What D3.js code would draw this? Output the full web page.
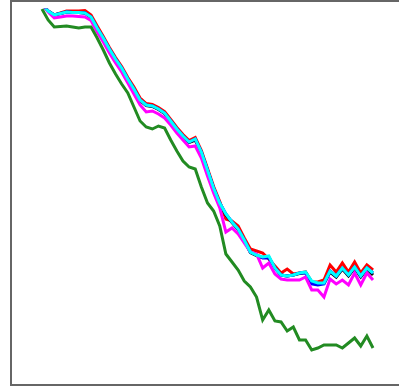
<!DOCTYPE html>
<html>
<head>
<meta charset="utf-8">
<script src="https://cdn.jsdelivr.net/npm/d3@7"></script>
<style>
  html, body { margin: 0; padding: 0; background: #fff; }
  svg { display: block; }
</style>
</head>
<body>
<svg id="chart" width="399" height="389"></svg>
<script>
// x categories (sample index)
const steps = d3.range(0, 55);

const red = [76.2,74.8,74.0,74.4,74.8,74.8,74.8,74.9,74.0,71.8,69.7,67.5,65.5,63.7,61.5,59.6,57.4,56.3,56.1,55.5,54.7,53.1,51.5,50.1,48.9,49.5,46.9,43.3,39.7,36.7,33.2,32.8,31.8,29.4,27.2,26.8,26.4,25.2,23.8,22.4,23.2,22.2,22.4,22.6,20.6,20.6,21.0,24.0,22.6,24.4,22.6,24.6,22.4,24.0,23.0];
const black = [76.2,74.8,74.0,74.3,74.6,74.5,74.5,74.4,73.5,71.3,69.3,67.1,65.1,63.3,61.1,59.1,56.9,55.9,55.7,55.1,54.3,52.7,51.1,49.7,48.5,49.0,46.5,42.9,39.3,36.3,34.0,32.5,31.1,28.9,26.5,25.9,25.5,25.6,23.4,22.0,21.8,22.0,22.3,22.5,20.6,20.3,20.3,22.6,21.6,23.2,21.8,23.4,21.6,23.2,22.0];
const blue = [76.2,74.8,74.0,74.3,74.6,74.5,74.5,74.4,73.6,71.4,69.4,67.2,65.2,63.4,61.2,59.2,57.0,56.0,55.8,55.2,54.4,52.8,51.2,49.8,48.6,49.2,46.6,43.0,39.4,36.4,34.2,32.6,31.2,29.0,26.6,26.0,25.4,25.4,23.4,22.0,21.8,22.0,22.4,22.4,20.2,20.0,20.2,22.8,21.8,23.4,22.0,23.6,21.8,23.4,22.4];
const magenta = [76.2,74.6,73.4,73.6,73.8,73.8,73.7,73.6,72.9,70.6,68.6,66.4,64.4,62.6,60.4,58.2,56.0,54.6,54.8,54.2,53.4,52.0,50.4,49.0,47.6,47.8,45.4,41.8,38.4,35.4,30.6,31.4,30.2,28.4,26.6,26.2,23.4,24.4,22.2,21.2,21.0,21.0,21.0,21.6,19.0,19.0,17.6,21.2,20.2,21.0,20.0,22.4,20.0,22.4,21.0];
const cyan = [76.2,74.8,74.0,74.3,74.6,74.5,74.5,74.4,73.6,71.4,69.4,67.2,65.2,63.4,61.2,59.2,57.0,56.0,55.8,55.2,54.4,52.8,51.2,49.8,48.6,49.2,46.6,43.0,39.4,36.4,34.2,32.6,31.2,29.0,26.6,26.0,25.6,25.8,23.4,22.0,21.8,22.0,22.4,22.6,20.8,20.4,20.4,22.8,21.8,23.4,22.0,23.6,21.8,23.4,22.4];
const green = [75.2,73.0,71.6,71.7,71.8,71.6,71.4,71.6,71.6,69.4,67.0,64.4,62.2,60.2,58.4,55.6,52.8,51.6,51.2,51.8,51.4,49.0,46.8,44.8,43.6,43.2,39.6,36.4,34.8,31.8,26.2,24.6,23.0,20.8,19.6,17.6,13.0,15.0,12.8,12.6,10.8,11.6,9.0,9.0,7.0,7.4,8.0,8.0,8.0,7.4,8.4,9.4,7.8,9.8,7.4];

const seriesNames = ["red", "black", "blue", "magenta", "cyan", "green"];
const seriesValues = [red, black, blue, magenta, cyan, green];
const seriesColors = ["#ff0000", "#000000", "#0000ff", "#ff00ff", "#00ffff", "#228b22"];

const svg = d3.select("#chart");

const x = d3.scaleLinear().domain([0, 54]).range([42, 373]);
const y = d3.scaleLinear().domain([0, 77]).range([385, 0]);

// frame
svg.append("rect")
  .attr("x", 11).attr("y", 1)
  .attr("width", 400).attr("height", 384)
  .attr("fill", "none")
  .attr("stroke", "#666")
  .attr("stroke-width", 2);

svg.append("clipPath").attr("id", "plotclip")
  .append("rect")
  .attr("x", 12).attr("y", 8.5)
  .attr("width", 400).attr("height", 376);

const line = d3.line()
  .x((d, i) => x(steps[i]))
  .y(d => y(d));

const g = svg.append("g").attr("clip-path", "url(#plotclip)");

seriesValues.forEach((vals, k) => {
  g.append("path")
    .datum(vals)
    .attr("class", "series-" + seriesNames[k])
    .attr("fill", "none")
    .attr("stroke", seriesColors[k])
    .attr("stroke-width", 3)
    .attr("stroke-linejoin", "miter")
    .attr("d", line);
});
</script>
</body>
</html>
